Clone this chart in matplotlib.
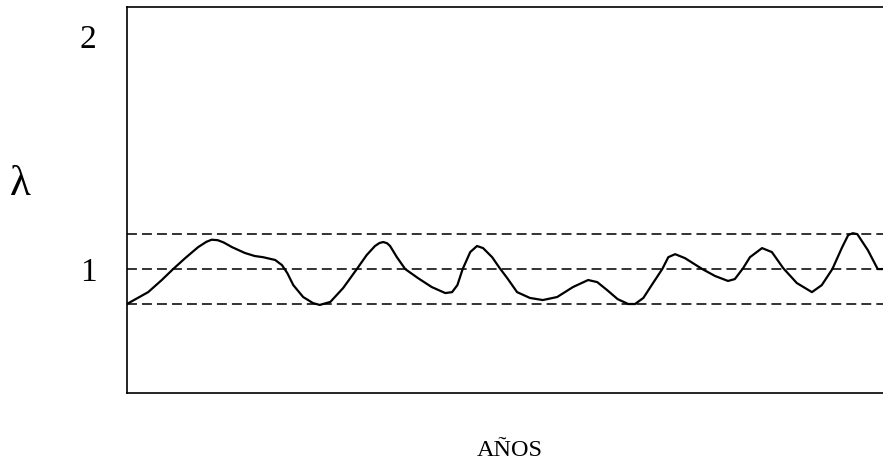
import numpy as np
import matplotlib.pyplot as plt

# datos (anos en escala 0-100, lambda)
anos = [0.0, 0.7, 2.8, 4.6, 6.1, 7.7, 9.4, 10.5, 11.2, 12.0, 12.8, 13.9, 15.6, 16.9, 18.0,
        19.6, 20.5, 21.2, 22.0, 23.3, 24.6, 25.5, 26.9, 28.6, 30.4, 31.7, 32.8,
        33.4, 33.9, 34.4, 34.8, 35.7, 36.8, 38.5, 40.3, 42.1, 43.0, 43.7, 44.4, 45.4, 46.3,
        47.1, 48.3, 49.3, 50.3, 51.6, 53.3, 55.0, 56.9, 59.0, 61.0, 62.2, 63.5,
        64.9, 66.3, 67.2, 68.3, 69.4, 70.8, 71.6, 72.5, 73.8, 76.1, 77.8, 79.5,
        80.4, 81.5, 82.4, 84.0, 85.3, 86.8, 88.6, 90.6, 91.9, 93.3, 94.6, 95.4,
        96.0, 96.6, 98.0, 99.3, 100.0]
lam = [0.850, 0.863, 0.901, 0.953, 1.000, 1.047, 1.094, 1.117, 1.126, 1.124, 1.114,
       1.094, 1.069, 1.056, 1.051, 1.039, 1.017, 0.983, 0.931, 0.880, 0.854, 0.846,
       0.859, 0.919, 1.000, 1.060, 1.099, 1.112, 1.116, 1.111, 1.099, 1.051, 1.000, 0.961,
       0.923, 0.897, 0.901, 0.931, 1.000, 1.073, 1.099, 1.090, 1.051, 1.004,
       0.961, 0.901, 0.876, 0.867, 0.880, 0.923, 0.953, 0.944, 0.910, 0.871,
       0.850, 0.850, 0.876, 0.931, 1.000, 1.051, 1.064, 1.047, 1.000, 0.970,
       0.949, 0.957, 1.004, 1.051, 1.090, 1.073, 1.004, 0.940, 0.901, 0.931,
       1.000, 1.094, 1.146, 1.154, 1.150, 1.081, 1.000, 1.000]

limites = [0.85, 1.0, 1.15]
yticks = [1, 2]
ytick_labels = ['1', '2']

plt.rcParams['font.family'] = ['Liberation Serif', 'DejaVu Serif']

fig = plt.figure(figsize=(8.83, 4.63), dpi=100)
ax = fig.add_axes([127/883, 1-393/463, 1-127/883, (393-7)/463])

for v in limites:
    ax.axhline(v, color='#222222', lw=1.3, dashes=(5.5, 2.8))

ax.plot(anos, lam, color='black', lw=1.6, solid_joinstyle='round')

ax.set_xlim(0, 100)
ax.set_ylim(0.468, 2.125)
ax.set_xticks([])
ax.set_yticks(yticks)
ax.set_yticklabels(ytick_labels, fontsize=24)
ax.tick_params(axis='y', length=0, pad=22)

for s in ['left', 'bottom', 'top']:
    ax.spines[s].set_linewidth(1.2)
ax.spines['right'].set_visible(False)

fig.text(20/883, 1-185/463, '\u03bb', fontsize=31, ha='center', va='center')
fig.text(510/883, 1-450/463, 'AÑOS', fontsize=17.5, ha='center', va='center')

fig.savefig('out.png', dpi=100)
